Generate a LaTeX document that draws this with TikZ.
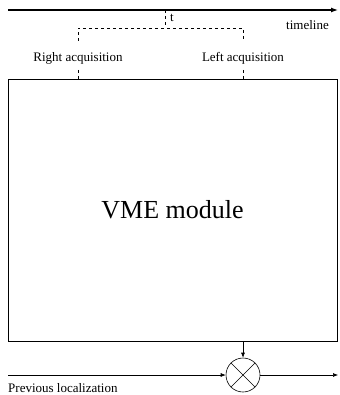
\documentclass[tikz,border=0pt]{standalone}
\usepackage{fontspec}
\setmainfont{Liberation Serif}
\usetikzlibrary{arrows.meta}
\begin{document}
\begin{tikzpicture}[x=1pt,y=-1pt,
  lbl/.style={font=\fontsize{13}{15}\selectfont, inner sep=0pt},
  dsh/.style={dashed, line width=0.6pt, dash pattern=on 3pt off 3pt},
  conn/.style={line width=0.6pt, -{Latex[length=5pt,width=4pt]}}]
\useasboundingbox (0,0) rectangle (339,395);
% timeline
\coordinate (tl0) at (8,10);
\coordinate (tl1) at (338,10);
\draw[line width=1.2pt, -{Latex[length=7pt,width=5pt]}] (tl0) -- (tl1);
\node[lbl, anchor=east] (timeline) at (329,25) {timeline};
% dashed bracket
\coordinate (tt) at (165,10);
\coordinate (tb) at (165,28);
\coordinate (bl) at (78,28);
\coordinate (br) at (243,28);
\coordinate (bld) at (78,41);
\coordinate (brd) at (243,41);
\draw[dsh] (tt) -- (tb);
\draw[dsh] (bld) -- (bl) -- (br) -- (brd);
\node[lbl, anchor=west] (t) at (170,18) {t};
\node[lbl] (racq) at (78,58) {Right acquisition};
\node[lbl] (lacq) at (243,58) {Left acquisition};
% VME box
\node[draw, line width=0.6pt, minimum width=329pt, minimum height=262pt, inner sep=0pt,
  font=\fontsize{26}{30}\selectfont] (vme) at (172.5,210) {VME module};
\coordinate (rd) at (78,70);
\coordinate (ld) at (243,70);
\draw[dsh] (rd) -- (78,79);
\draw[dsh] (ld) -- (243,79);
% multiplier
\node[draw, circle, line width=0.6pt, minimum size=34pt, inner sep=0pt] (mul) at (243,375) {};
\draw[line width=0.6pt] (mul.north east) -- (mul.south west);
\draw[line width=0.6pt] (mul.north west) -- (mul.south east);
\draw[conn] (vme.south -| mul) -- (mul.north);
\coordinate (pin) at (8,375);
\coordinate (pout) at (338,375);
\draw[conn] (pin) -- (mul.west);
\draw[conn] (mul.east) -- (pout);
\node[lbl, anchor=west] (prev) at (8,388.5) {Previous localization};
\end{tikzpicture}
\end{document}
